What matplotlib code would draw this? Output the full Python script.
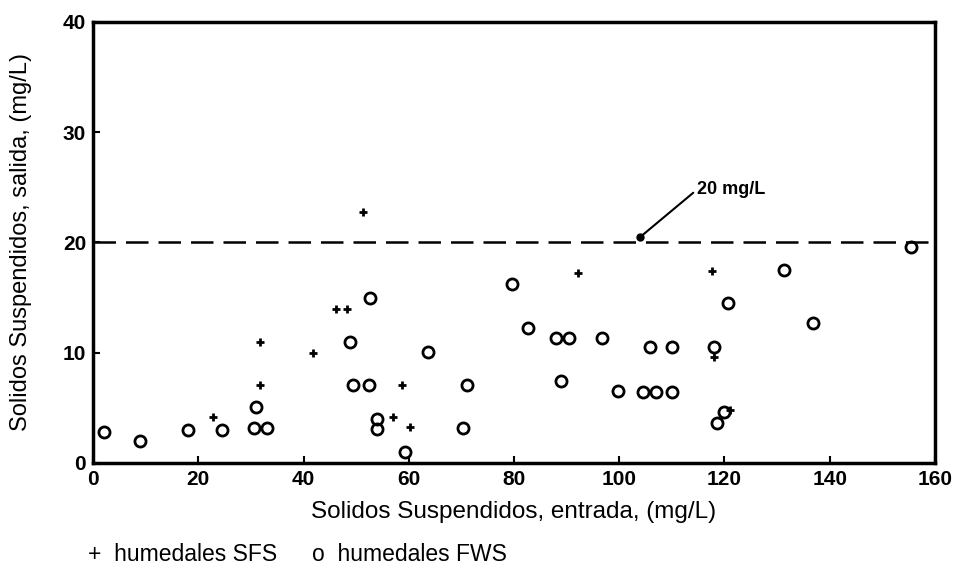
import numpy as np
from matplotlib import pyplot as plt

# humedales SFS (+)
sfs_x = [22.8, 31.7, 31.7, 41.8, 46.2, 48.2, 51.3, 57.0, 58.7, 60.2, 92.1, 117.6, 118.0, 121.0]
sfs_y = [4.2, 7.1, 11.0, 10.0, 14.0, 14.0, 22.8, 4.2, 7.1, 3.3, 17.2, 17.4, 9.6, 4.8]

# humedales FWS (o)
fws_x = [2, 9, 18, 24.5, 31, 30.5, 33, 48.8, 52.6, 49.5, 52.5, 54, 54, 59.3, 63.6, 71, 70.3,
         79.6, 82.6, 88, 90.5, 96.7, 89, 105.8, 110, 99.7, 104.5, 107, 110, 120.6, 118,
         118.5, 120, 131.4, 136.8, 155.5]
fws_y = [2.8, 2.0, 3.0, 3.0, 5.1, 3.2, 3.2, 11.0, 15.0, 7.1, 7.1, 4.0, 3.1, 1.0, 10.1, 7.1, 3.2,
         16.2, 12.2, 11.3, 11.3, 11.3, 7.4, 10.5, 10.5, 6.5, 6.4, 6.4, 6.4, 14.5, 10.5,
         3.6, 4.6, 17.5, 12.7, 19.6]

limite = 20
xticks = [0, 20, 40, 60, 80, 100, 120, 140, 160]
yticks = [0, 10, 20, 30, 40]

plt.rcParams['font.family'] = ['Liberation Sans', 'DejaVu Sans']

fig = plt.figure(figsize=(9.56, 5.68), dpi=100)
ax = fig.add_axes([0.0973, 0.185, 0.8807, 0.7763])

ax.plot(fws_x, fws_y, 'o', ms=8, mfc='none', mec='black', mew=2)
ax.plot(sfs_x, sfs_y, '+', ms=6, color='black', mew=2)

# linea limite
ax.axhline(limite, color='black', ls=(0, (9, 4)), lw=1.8)
ax.plot([104], [20.5], 'o', ms=5, color='black')
ax.annotate('20 mg/L', xy=(104, 20.5), xytext=(114.8, 24.8), fontsize=13, fontweight='bold',
            va='center',
            arrowprops=dict(arrowstyle='-', lw=1.5, color='black', shrinkA=1, shrinkB=0,
                            relpos=(0, 0.5)))

ax.set_xlim(0, 160)
ax.set_ylim(0, 40)
ax.set_xticks(xticks)
ax.set_yticks(yticks)
ax.tick_params(direction='in', length=5, width=1.5, labelsize=15, pad=5)
for lab in ax.get_xticklabels() + ax.get_yticklabels():
    lab.set_fontweight('bold')
for s in ax.spines.values():
    s.set_linewidth(2.5)

ax.set_xlabel('Solidos Suspendidos, entrada, (mg/L)', fontsize=17.5, labelpad=9)
ax.set_ylabel('Solidos Suspendidos, salida, (mg/L)', fontsize=17)
ax.yaxis.set_label_coords(-0.072, 0.5)

fig.text(0.092, 0.013, '+  humedales SFS', fontsize=16.5)
fig.text(0.326, 0.013, 'o  humedales FWS', fontsize=16.5)

fig.savefig('out.png', dpi=100)
